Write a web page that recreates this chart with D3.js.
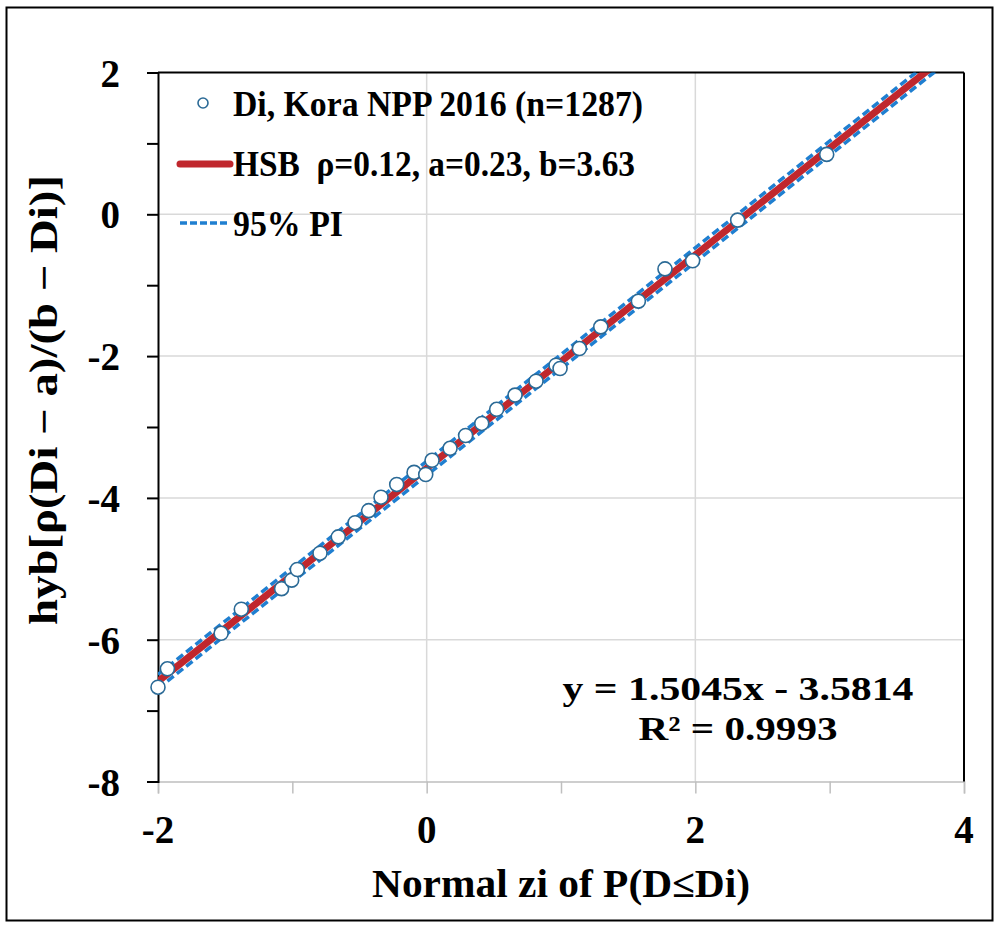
<!DOCTYPE html>
<html>
<head>
<meta charset="utf-8">
<script src="https://cdn.jsdelivr.net/npm/d3@7"></script>
<style>
  body { margin: 0; background: #fff; }
  svg text { font-family: "Liberation Serif", "Times New Roman", serif; font-weight: bold; fill: #000; }
</style>
</head>
<body>
<div class="graph"></div>
<script>
var zi = [-2.00, -1.93, -1.53, -1.38, -1.08, -1.005, -0.963, -0.794, -0.658, -0.533, -0.432, -0.34, -0.223, -0.094, -0.007, 0.04,
  0.174, 0.29, 0.41, 0.521, 0.658, 0.814, 0.963, 0.993, 1.137, 1.296, 1.576, 1.774, 1.98, 2.315, 2.978];
var hyb = [-6.67, -6.41, -5.91, -5.57, -5.28, -5.16, -5.01, -4.78, -4.55, -4.35, -4.18, -3.99, -3.81, -3.64, -3.67, -3.47,
  -3.30, -3.12, -2.95, -2.75, -2.55, -2.354, -2.128, -2.175, -1.893, -1.588, -1.225, -0.77, -0.656, -0.082, 0.845];

// fitted line + prediction interval
var slope = 1.5045, intercept = -3.5814;
var fitX = [-2, 3.8];
var piHalf = 0.1;

var xTicks = [-2, -1, 0, 1, 2, 3, 4];
var xLabels = [-2, 0, 2, 4];
var yTicks = [2, 1, 0, -1, -2, -3, -4, -5, -6, -7, -8];
var yLabels = [2, 0, -2, -4, -6, -8];
var xGrid = [0, 2];
var yGrid = [0, -2, -4, -6];

var legendItems = ["Di, Kora NPP 2016 (n=1287)", "HSB  ρ=0.12, a=0.23, b=3.63", "95% PI"];
var legendWidths = [410, 402, 110];
var eqLines = ["y = 1.5045x - 3.5814", "R² = 0.9993"];
var eqWidths = [351, 199];

var W = 1000, H = 925;
var margin = { top: 72.5, right: 36, bottom: 143.5, left: 158 },
    width = W - margin.left - margin.right,
    height = H - margin.top - margin.bottom;

var svg = d3.select(".graph").append("svg")
    .attr("width", W)
    .attr("height", H);

// outer frame
svg.append("rect")
    .attr("x", 6.5).attr("y", 7.5)
    .attr("width", 986).attr("height", 913)
    .attr("fill", "none").attr("stroke", "#000").attr("stroke-width", 2);

var g = svg.append("g")
    .attr("transform", `translate(${margin.left},${margin.top})`);

var x = d3.scaleLinear().domain([-2, 4]).range([0, width]);
var y = d3.scaleLinear().domain([-8, 2]).range([height, 0]);

g.append("clipPath").attr("id", "clip")
  .append("rect").attr("width", width).attr("height", height);

// grid
g.selectAll(".gx").data(xGrid).enter().append("line")
    .attr("x1", d => x(d)).attr("x2", d => x(d))
    .attr("y1", 0).attr("y2", height)
    .attr("stroke", "#d9d9d9").attr("stroke-width", 1.5);
g.selectAll(".gy").data(yGrid).enter().append("line")
    .attr("y1", d => y(d)).attr("y2", d => y(d))
    .attr("x1", 0).attr("x2", width)
    .attr("stroke", "#d9d9d9").attr("stroke-width", 1.5);

// x axis (grey)
var xAxis = g.append("g")
    .attr("transform", `translate(0,${height})`)
    .call(d3.axisBottom(x).tickValues(xTicks).tickSize(12).tickFormat(""));
xAxis.selectAll("line, path").attr("stroke", "#bfbfbf").attr("stroke-width", 1.5);
g.selectAll(".xl").data(xLabels).enter().append("text")
    .attr("x", d => x(d)).attr("y", height + 61)
    .attr("text-anchor", "middle").attr("font-size", 39)
    .text(d => d);

// top + right frame of plot
g.append("line").attr("x1", 0).attr("x2", width).attr("y1", 0).attr("y2", 0)
    .attr("stroke", "#000").attr("stroke-width", 2);
g.append("line").attr("x1", width).attr("x2", width).attr("y1", 0).attr("y2", height)
    .attr("stroke", "#000").attr("stroke-width", 2);

// y axis
var yAxis = g.append("g")
    .call(d3.axisLeft(y).tickValues(yTicks).tickSize(11).tickFormat(""));
yAxis.selectAll("line, path").attr("stroke", "#000").attr("stroke-width", 2);
g.selectAll(".yl").data(yLabels).enter().append("text")
    .attr("x", -38).attr("y", d => y(d) + 14)
    .attr("text-anchor", "end").attr("font-size", 39)
    .text(d => d);

// titles
svg.append("text")
    .attr("x", margin.left + width / 2).attr("y", 897)
    .attr("text-anchor", "middle").attr("font-size", 39)
    .attr("textLength", 378).attr("lengthAdjust", "spacingAndGlyphs")
    .text("Normal zi of P(D≤Di)");
svg.append("text")
    .attr("transform", "translate(57,400) rotate(-90)")
    .attr("text-anchor", "middle").attr("font-size", 39)
    .attr("textLength", 450).attr("lengthAdjust", "spacingAndGlyphs")
    .text("hyb[ρ(Di − a)/(b − Di)]");

// lines
var line = d3.line().x(d => x(d[0])).y(d => y(d[1]));
var plot = g.append("g").attr("clip-path", "url(#clip)");
var fit = fitX.map(v => [v, slope * v + intercept]);
[piHalf, -piHalf].forEach(function (off) {
  plot.append("path")
      .datum(fitX.map(v => [v, slope * v + intercept + off]))
      .attr("fill", "none").attr("stroke", "#1f7fd0")
      .attr("stroke-width", 3.5).attr("stroke-dasharray", "8,4")
      .attr("d", line);
});
plot.append("path")
    .datum(fit)
    .attr("fill", "none").attr("stroke", "#c0272d")
    .attr("stroke-width", 7)
    .attr("d", line);

// points
g.selectAll(".pt").data(zi).enter().append("circle")
    .attr("cx", d => x(d)).attr("cy", (d, i) => y(hyb[i]))
    .attr("r", 7)
    .attr("fill", "#fff").attr("stroke", "#2b6a96").attr("stroke-width", 1.6);

// legend
var lg = svg.append("g");
lg.append("circle").attr("cx", 203).attr("cy", 103).attr("r", 5)
    .attr("fill", "#fff").attr("stroke", "#2b6a96").attr("stroke-width", 1.6);
lg.append("line").attr("x1", 180).attr("x2", 230).attr("y1", 164).attr("y2", 164)
    .attr("stroke", "#c0272d").attr("stroke-width", 7).attr("stroke-linecap", "round");
lg.append("line").attr("x1", 180).attr("x2", 230).attr("y1", 223).attr("y2", 223)
    .attr("stroke", "#1f7fd0").attr("stroke-width", 3.5).attr("stroke-dasharray", "7,3");
lg.selectAll(".lt").data(legendItems).enter().append("text")
    .attr("x", 233).attr("y", (d, i) => 116 + i * 60)
    .attr("font-size", 36)
    .attr("textLength", (d, i) => legendWidths[i]).attr("lengthAdjust", "spacingAndGlyphs")
    .style("white-space", "pre")
    .text(d => d);

// trendline label
svg.selectAll(".eq").data(eqLines).enter().append("text")
    .attr("x", 738).attr("y", (d, i) => 700 + i * 40)
    .attr("text-anchor", "middle").attr("font-size", 34)
    .attr("textLength", (d, i) => eqWidths[i]).attr("lengthAdjust", "spacingAndGlyphs")
    .text(d => d);
</script>
</body>
</html>
